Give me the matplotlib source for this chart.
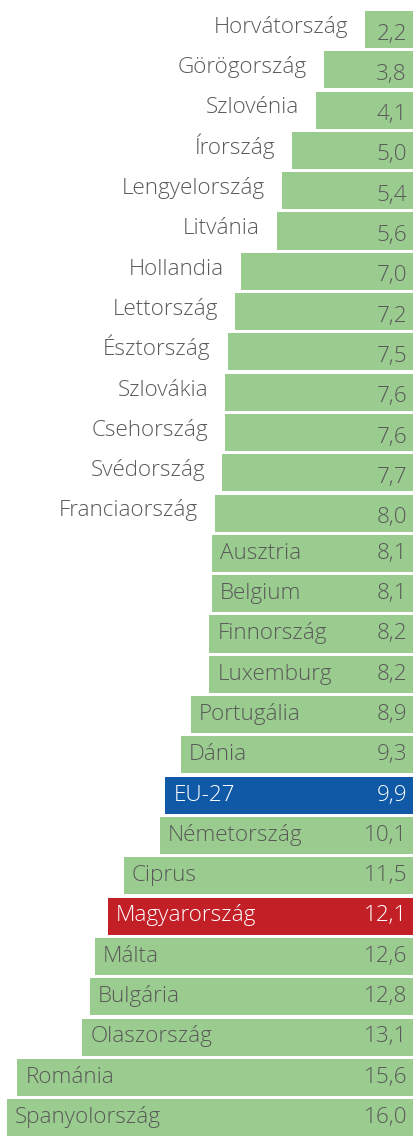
import matplotlib.pyplot as plt

countries = ['Horvátország', 'Görögország', 'Szlovénia', 'Írország', 'Lengyelország',
             'Litvánia', 'Hollandia', 'Lettország', 'Észtország', 'Szlovákia',
             'Csehország', 'Svédország', 'Franciaország', 'Ausztria', 'Belgium',
             'Finnország', 'Luxemburg', 'Portugália', 'Dánia', 'EU-27',
             'Németország', 'Ciprus', 'Magyarország', 'Málta', 'Bulgária',
             'Olaszország', 'Románia', 'Spanyolország']
values = [2.2, 3.8, 4.1, 5.0, 5.4, 5.6, 7.0, 7.2, 7.5, 7.6, 7.6, 7.7, 8.0, 8.1,
          8.1, 8.2, 8.2, 8.9, 9.3, 9.9, 10.1, 11.5, 12.1, 12.6, 12.8, 13.1, 15.6, 16.0]
highlight = {'EU-27': '#1059A6', 'Magyarország': '#C21F27'}

GREEN = '#9BCC8F'
GREY = '#595959'
plt.rcParams['font.family'] = ['Open Sans', 'DejaVu Sans']

W, H = 414, 1137
fig = plt.figure(figsize=(W / 100, H / 100), dpi=100)
ax = fig.add_axes([0, 0, 1, 1])

ypos = list(range(len(countries)))
colors = [highlight.get(c, GREEN) for c in countries]
ax.barh(ypos, values, height=0.92, color=colors, linewidth=0)

x0, x1 = 16.27, 0.313
ax.set_xlim(x0, x1)
ax.set_ylim(27.48, -0.732)
ax.axis('off')

px = (x0 - x1) / W      # data units per pixel, horizontally
py = 1 / 40.3           # data units per pixel, vertically
fs = 16.2
kw = dict(fontsize=fs, fontweight='light', va='baseline')
for y, c, v in zip(ypos, countries, values):
    tc = 'white' if c in highlight else GREY
    label = f'{v:.1f}'.replace('.', ',')
    if v > 8.0:
        # name sits inside the bar
        ax.text(0.39 + 5 * px, y + 5.3 * py, label, ha='right', color=tc, **kw)
        ax.text(v - 8 * px, y + 5.3 * py, c, ha='left', color=tc, **kw)
    else:
        ax.text(0.39 + 5 * px, y + 10 * py, label, ha='right', color=tc, **kw)
        ax.text(v + 17 * px, y + 3.3 * py, c, ha='right', color=GREY, **kw)

fig.savefig('out.png', dpi=100)
